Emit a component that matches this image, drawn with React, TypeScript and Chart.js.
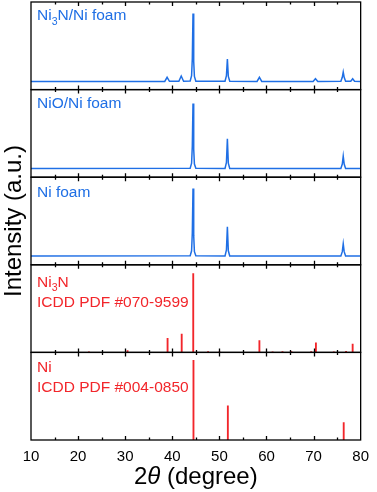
import React, { useEffect, useRef } from "react";
import { Chart, registerables } from "chart.js";

Chart.register(...registerables);

const FONT = "'Liberation Sans', Arial, Helvetica, sans-serif";
const BLUE = "#1f6fe5";
const RED = "#f2262b";
const BLACK = "#000000";

// X axis
const xMin = 10;
const xMax = 80;
const xStep = 10;

// Panel 1: Ni3N/Ni foam (measured pattern)
const ni3nFoamAngle = [10, 38.4, 38.9, 39.4, 41.4, 41.9, 42.4, 43.8, 44.1, 44.25, 44.4, 44.55, 44.7, 45.0, 51.2, 51.5, 51.7, 51.9, 52.2, 58.0, 58.5, 59.0, 69.9, 70.4, 70.9, 75.8, 76.1, 76.3, 76.5, 76.8, 77.9, 78.3, 78.7, 80];
const ni3nFoamIntensity = [9.3, 9.3, 14, 9.5, 9.5, 15.5, 9.6, 9.9, 16, 35, 87, 32, 15, 9.6, 9.5, 16, 35, 15, 9.5, 9.3, 14, 9.3, 9.3, 12.4, 9.3, 9.5, 14, 20, 14, 9.6, 9.5, 12.4, 9.5, 9.3];

// Panel 2: NiO/Ni foam (measured pattern)
const nioFoamAngle = [10, 43.8, 44.1, 44.25, 44.4, 44.55, 44.7, 45.0, 51.2, 51.5, 51.7, 51.9, 52.2, 75.8, 76.1, 76.3, 76.5, 76.8, 80];
const nioFoamIntensity = [10, 10.3, 16, 35, 84, 32, 15, 10.3, 10, 17, 44, 16, 10, 10, 15, 24, 15, 10, 10];

// Panel 3: Ni foam (measured pattern)
const niFoamAngle = [10, 43.8, 44.1, 44.25, 44.4, 44.55, 44.7, 45.0, 51.2, 51.5, 51.7, 51.9, 52.2, 75.8, 76.1, 76.3, 76.5, 76.8, 80];
const niFoamIntensity = [10, 10.3, 16, 36, 87, 33, 15, 10.3, 10, 17, 43.5, 16, 10, 10, 15, 24, 15, 10, 10];

// Panel 4: Ni3N reference ICDD PDF #070-9599
const ni3nRefAngle = [22.3, 30.5, 39.0, 42.0, 44.45, 47.6, 50.0, 58.5, 61.3, 63.4, 65.3, 69.5, 70.5, 74.3, 76.9, 78.3];
const ni3nRefIntensity = [0.6, 2, 16, 21, 90, 1, 0.6, 13.5, 0.6, 1, 1, 0.8, 11, 0.6, 1.2, 9.5];

// Panel 5: Ni reference ICDD PDF #004-0850
const niRefAngle = [44.5, 51.8, 76.4];
const niRefIntensity = [91, 39, 20];

// Texts
const panelIds = ["p1", "p2", "p3", "p4", "p5"];
const panelColors = [BLUE, BLUE, BLUE, RED, RED];
type Part = { t: string; sub?: boolean; italic?: boolean };
const panelLabels: Part[][][] = [
  [[{ t: "Ni" }, { t: "3", sub: true }, { t: "N/Ni foam" }]],
  [[{ t: "NiO/Ni foam" }]],
  [[{ t: "Ni foam" }]],
  [[{ t: "Ni" }, { t: "3", sub: true }, { t: "N" }], [{ t: "ICDD PDF #070-9599" }]],
  [[{ t: "Ni" }], [{ t: "ICDD PDF #004-0850" }]],
];
const labelOffsets = [18, 18, 20, 22, 20];
const xTitle: Part[] = [{ t: "2" }, { t: "θ", italic: true }, { t: " (degree)" }];
const yTitle = "Intensity (a.u.)";

const toPoints = (xs: number[], ys: number[]) => xs.map((x, i) => ({ x, y: ys[i] }));

function drawRich(ctx: CanvasRenderingContext2D, parts: Part[], x: number, y: number, size: number, align: "left" | "center") {
  const fontFor = (p: Part) => `${p.italic ? "italic " : ""}${p.sub ? size * 0.68 : size}px ${FONT}`;
  let total = 0;
  for (const p of parts) {
    ctx.font = fontFor(p);
    total += ctx.measureText(p.t).width;
  }
  let cx = align === "center" ? x - total / 2 : x;
  ctx.textAlign = "left";
  ctx.textBaseline = "alphabetic";
  for (const p of parts) {
    ctx.font = fontFor(p);
    ctx.fillText(p.t, cx, y + (p.sub ? size * 0.3 : 0));
    cx += ctx.measureText(p.t).width;
  }
}

const decorPlugin = {
  id: "decor",
  afterDraw(chart: any) {
    const ctx: CanvasRenderingContext2D = chart.ctx;
    const xs = chart.scales.x;
    ctx.save();
    ctx.strokeStyle = BLACK;
    ctx.lineWidth = 1.3;
    panelIds.forEach((id, i) => {
      const s = chart.scales[id];
      ctx.strokeRect(xs.left, s.top, xs.right - xs.left, s.bottom - s.top);
      ctx.beginPath();
      for (let v = xMin + xStep / 2; v < xMax; v += xStep / 2) {
        const px = Math.round(xs.getPixelForValue(v)) + 0.5;
        const len = Math.abs(v % xStep) < 1e-6 ? 4 : 2.5;
        ctx.moveTo(px, s.top);
        ctx.lineTo(px, s.top + len);
        ctx.moveTo(px, s.bottom);
        ctx.lineTo(px, s.bottom - len);
      }
      ctx.stroke();
      ctx.fillStyle = panelColors[i];
      panelLabels[i].forEach((line, li) => {
        drawRich(ctx, line, xs.left + 6, s.top + labelOffsets[i] + li * 20, 15.5, "left");
      });
    });
    ctx.fillStyle = BLACK;
    drawRich(ctx, xTitle, (xs.left + xs.right) / 2, 484, 24, "center");
    ctx.restore();
  },
};

function yAxis(weight: number, withTitle: boolean) {
  return {
    type: "linear",
    position: "left",
    stack: "panels",
    stackWeight: 1,
    weight,
    min: 0,
    max: 100,
    ticks: { display: false },
    grid: { display: false, drawTicks: false },
    border: { display: false },
    title: {
      display: withTitle,
      text: yTitle,
      color: BLACK,
      font: { size: 24, family: FONT },
      padding: 0,
    },
    afterFit: (s: any) => {
      s.width = 31;
    },
  };
}

export default function App() {
  const ref = useRef<HTMLCanvasElement>(null);
  useEffect(() => {
    if (!ref.current) return;
    const lineDs = (xs: number[], ys: number[], axis: string) => ({
      type: "line",
      data: toPoints(xs, ys),
      yAxisID: axis,
      borderColor: BLUE,
      borderWidth: 1.5,
      pointRadius: 0,
      tension: 0,
      fill: false,
    });
    const barDs = (xs: number[], ys: number[], axis: string) => ({
      type: "bar",
      data: toPoints(xs, ys),
      yAxisID: axis,
      backgroundColor: RED,
      borderWidth: 0,
      barThickness: 1.2,
      grouped: false,
    });
    const chart = new Chart(ref.current, {
      type: "line",
      data: {
        datasets: [
          lineDs(ni3nFoamAngle, ni3nFoamIntensity, "p1"),
          lineDs(nioFoamAngle, nioFoamIntensity, "p2"),
          lineDs(niFoamAngle, niFoamIntensity, "p3"),
          barDs(ni3nRefAngle, ni3nRefIntensity, "p4"),
          barDs(niRefAngle, niRefIntensity, "p5"),
        ] as any,
      },
      options: {
        responsive: false,
        animation: false,
        layout: { padding: { top: 2, right: 11, left: 0, bottom: 0 } },
        plugins: { legend: { display: false }, tooltip: { enabled: false } },
        scales: {
          x: {
            type: "linear",
            position: "bottom",
            offset: false,
            min: xMin,
            max: xMax,
            ticks: {
              stepSize: xStep,
              color: BLACK,
              font: { size: 15, family: FONT },
              padding: 8,
              autoSkip: false,
              maxRotation: 0,
            },
            grid: { display: false, drawTicks: false, offset: false },
            border: { display: false },
            afterFit: (s: any) => {
              s.height = 52;
            },
          },
          p1: yAxis(5, false),
          p2: yAxis(4, false),
          p3: yAxis(3, true),
          p4: yAxis(2, false),
          p5: yAxis(1, false),
        } as any,
      },
      plugins: [decorPlugin],
    } as any);
    return () => chart.destroy();
  }, []);
  return (
    <div style={{ position: "absolute", left: 0, top: 0, width: 377, height: 492 }}>
      <canvas ref={ref} width={377} height={492} style={{ width: 377, height: 492 }} />
    </div>
  );
}
